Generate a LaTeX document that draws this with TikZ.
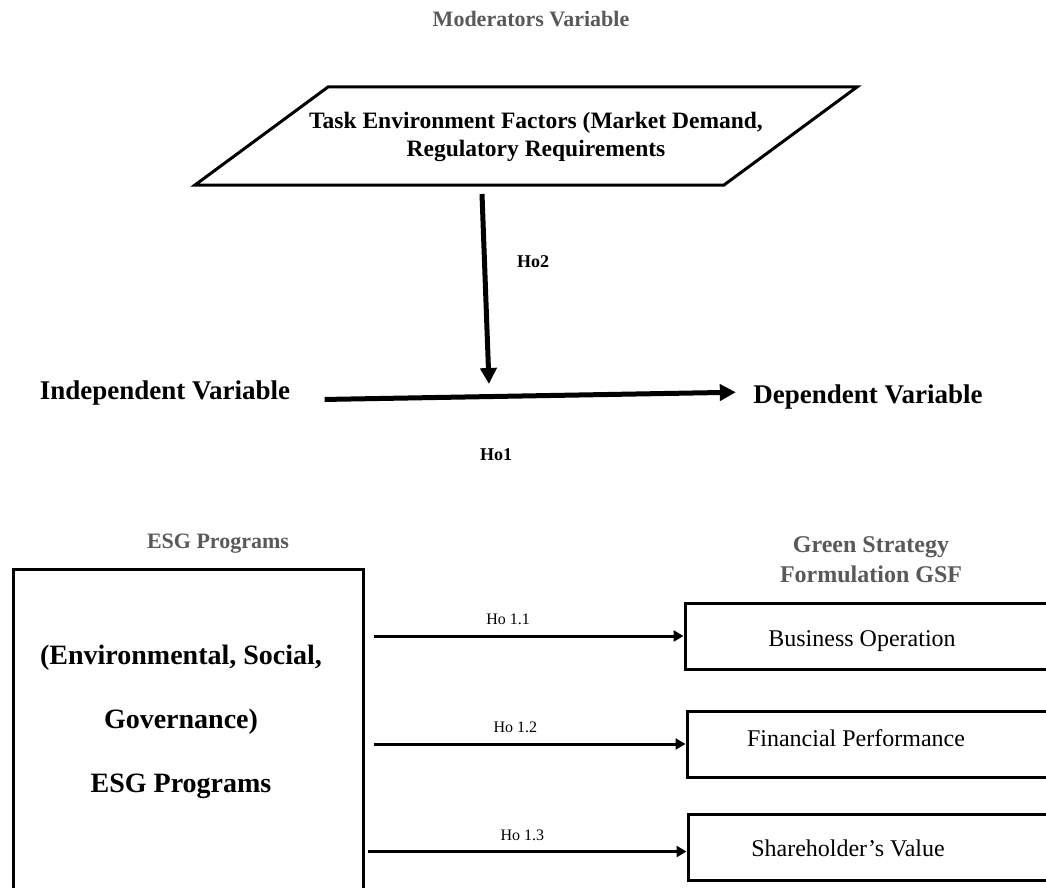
\documentclass[tikz,border=0pt]{standalone}
\usepackage{fontspec}
\setmainfont{Liberation Serif}
\usepackage{tikz}
\usetikzlibrary{arrows.meta}
\definecolor{headgray}{HTML}{595959}

\begin{document}
\begin{tikzpicture}[x=1pt,y=-1pt,
	head/.style={font=\fontsize{22}{30}\selectfont\bfseries, text=headgray, align=center},
	var/.style={font=\fontsize{27}{32}\selectfont\bfseries},
	hyp/.style={font=\fontsize{18}{20}\selectfont\bfseries},
	subhyp/.style={above=6pt, font=\fontsize{16}{18}\selectfont},
	frame/.style={draw, line width=3pt},
	outbox/.style={frame, minimum width=415pt, minimum height=66pt, inner sep=0pt},
	outtxt/.style={font=\fontsize{24}{28}\selectfont},
	bigarr/.style={line width=5pt, -{Triangle[length=16pt,width=16pt]}},
	smallarr/.style={line width=3pt, -{Triangle[length=10pt,width=11pt]}, shorten <=9pt}
]
\useasboundingbox (0,0) rectangle (1046,888);

\node[head] (modv) at (531,19) {Moderators Variable};
\draw[frame] (328,87) -- (857,87) -- (724,185) -- (195,185) -- cycle;
\node[font=\fontsize{23.5}{28}\selectfont\bfseries, align=center] (tef) at (536,137)
	{Task Environment Factors (Market Demand,\\Regulatory Requirements};
\coordinate (h2s) at (482,194);
\coordinate (h2e) at (489,384);
\draw[bigarr] (h2s) -- (h2e);
\node[hyp] (ho2) at (533,262) {Ho2};

\node[var] (ind) at (165,393) {Independent Variable};
\node[var] (dep) at (868,397) {Dependent Variable};
\draw[bigarr, shorten <=31pt, shorten >=14pt] ([yshift=-7pt]ind.east) -- ([yshift=5pt]dep.west);
\node[hyp] (ho1) at (496,455) {Ho1};

\node[head] (esgh) at (218,544) {ESG Programs};
\node[head, font=\fontsize{24}{30}\selectfont\bfseries] (gsfh) at (871,560) {Green Strategy\\Formulation GSF};

\node[frame, minimum width=350pt, minimum height=331pt] (esg) at (188,734.5) {};
\node[font=\fontsize{28}{64}\selectfont\bfseries, align=center] (esgt) at (181,722)
	{(Environmental, Social,\\Governance)\\ESG Programs};

\node[outbox] (bo) at (892.5,636) {};
\node[outbox] (fp) at (894.5,744) {};
\node[outbox] (sv) at (895.5,847.5) {};
\node[outtxt] (bot) at (862,641) {Business Operation};
\node[outtxt] (fpt) at (856,738) {Financial Performance};
\node[outtxt] (svt) at (848,848) {Shareholder’s Value};

\path[smallarr]
(esg.east |- bo.west) edge node[subhyp, pos=0.45] {Ho 1.1} (bo.west)
(esg.east |- fp.west) edge node[subhyp, pos=0.47] {Ho 1.2} (fp.west)
([yshift=-4pt]esg.east |- sv.west) edge[shorten <=3pt] node[subhyp, pos=0.49] {Ho 1.3} ([yshift=-4pt]sv.west)
;
\end{tikzpicture}
\end{document}
